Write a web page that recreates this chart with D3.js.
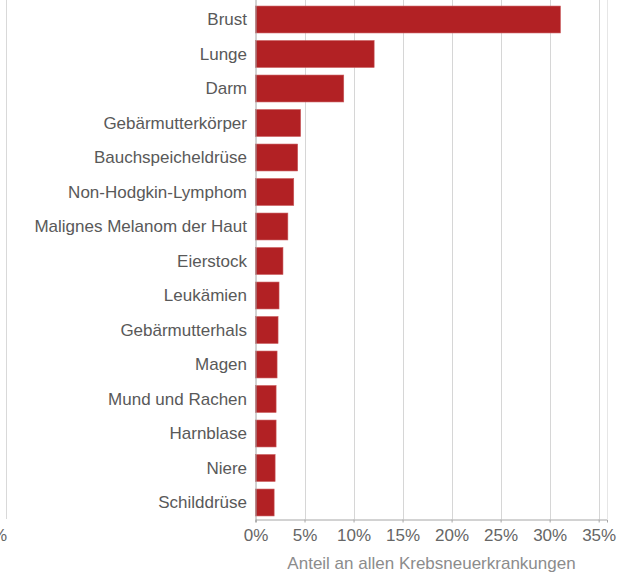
<!DOCTYPE html>
<html>
<head>
<meta charset="utf-8">
<script src="https://cdn.jsdelivr.net/npm/d3@7"></script>
<style>
	body { margin: 0; background: #fff; }
	svg { display: block; font-family: "Liberation Sans", Arial, sans-serif; }
</style>
</head>
<body>
<svg id="chart" width="619" height="574"></svg>
<script>
// Krebsneuerkrankungen, Anteil in Prozent
const categories = ["Brust", "Lunge", "Darm", "Gebärmutterkörper", "Bauchspeicheldrüse",
	"Non-Hodgkin-Lymphom", "Malignes Melanom der Haut", "Eierstock", "Leukämien",
	"Gebärmutterhals", "Magen", "Mund und Rachen", "Harnblase", "Niere", "Schilddrüse"];
const values = [31.1, 12.1, 9.0, 4.6, 4.3, 3.9, 3.3, 2.8, 2.4, 2.3, 2.2, 2.1, 2.1, 2.0, 1.9];
const ticks = [0, 5, 10, 15, 20, 25, 30, 35];
const axisTitle = "Anteil an allen Krebsneuerkrankungen";

const svg = d3.select("#chart");
const left = 255.5, right = 607, bottom = 519;
const fontSize = "17px";

let x = d3.scaleLinear()
	.domain([0, 35.85])
	.range([left, right]);

let y = d3.scaleBand()
	.domain(categories)
	.range([2.25, 519.75])
	.paddingInner(0.22)
	.paddingOuter(0.11);

// leftover frame from the neighbouring chart
svg.append("line")
	.attr("x1", 6.5).attr("x2", 6.5)
	.attr("y1", 0).attr("y2", bottom)
	.attr("stroke", "#d9d9d9");
svg.append("text")
	.attr("x", 7).attr("y", 541)
	.attr("text-anchor", "end")
	.attr("fill", "#666")
	.attr("font-size", fontSize)
	.text("35%");

// grid lines
svg.append("g")
	.selectAll("line")
	.data(ticks.slice(1))
	.enter()
	.append("line")
	.attr("x1", d => Math.round(x(d)) + 0.5)
	.attr("x2", d => Math.round(x(d)) + 0.5)
	.attr("y1", 0)
	.attr("y2", bottom)
	.attr("stroke", "#d6d6d6");

svg.append("line")
	.attr("x1", right + 0.5).attr("x2", right + 0.5)
	.attr("y1", 0).attr("y2", bottom)
	.attr("stroke", "#e6e6e6");

// bars
svg.append("g")
	.selectAll("rect")
	.data(values)
	.enter()
	.append("rect")
	.attr("x", left)
	.attr("y", (d, i) => y(categories[i]))
	.attr("width", d => x(d) - left)
	.attr("height", y.bandwidth())
	.attr("fill", "#b22124")
	.attr("stroke", "#c9585a")
	.attr("stroke-width", 0.6);

// category labels
svg.append("g")
	.selectAll("text")
	.data(categories)
	.enter()
	.append("text")
	.attr("x", 247)
	.attr("y", d => y(d) + y.bandwidth() / 2)
	.attr("dy", "0.35em")
	.attr("text-anchor", "end")
	.attr("fill", "#595959")
	.attr("font-size", fontSize)
	.text(d => d);

// x axis
let xAxis = d3.axisBottom(x)
	.tickValues(ticks)
	.tickSize(3)
	.tickFormat(d => d + "%");

let gx = svg.append("g")
	.attr("transform", "translate(0," + (bottom + 0.5) + ")")
	.call(xAxis);
gx.select(".domain").attr("stroke", "#a6a6a6");
gx.selectAll(".tick line").attr("stroke", "#a6a6a6");
gx.selectAll(".tick text")
	.attr("fill", "#666")
	.attr("font-size", fontSize)
	.attr("font-family", "Liberation Sans, Arial, sans-serif")
	.attr("y", 21)
	.attr("dy", null);

// y axis line
svg.append("line")
	.attr("x1", left + 0.5).attr("x2", left + 0.5)
	.attr("y1", 0).attr("y2", bottom + 3)
	.attr("stroke", "#a6a6a6");

svg.append("text")
	.attr("x", 431.5)
	.attr("y", 569)
	.attr("text-anchor", "middle")
	.attr("fill", "#8c8c8c")
	.attr("font-size", fontSize)
	.text(axisTitle);
</script>
</body>
</html>
